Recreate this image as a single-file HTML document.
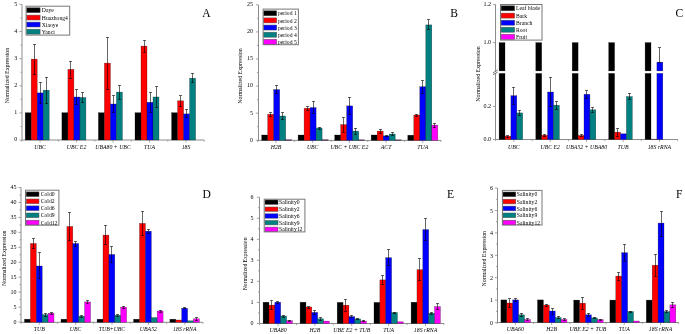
<!DOCTYPE html>
<html><head><meta charset="utf-8"><style>
html,body{margin:0;padding:0;background:#fff;}
body{width:685px;height:334px;overflow:hidden;}
svg{display:block;font-family:"Liberation Serif",serif;}
</style></head><body>
<svg width="685" height="334" viewBox="0 0 685 334" fill="#000">
<rect width="685" height="334" fill="#fff"/>
<line x1="22" y1="4.3" x2="22" y2="140" stroke="#8c8c8c" stroke-width="1.0"/>
<line x1="21.8" y1="140" x2="204.3" y2="140" stroke="#8c8c8c" stroke-width="1.0"/>
<line x1="19.4" y1="140.1" x2="22" y2="140.1" stroke="#8c8c8c" stroke-width="0.8"/>
<line x1="19.4" y1="112.96" x2="22" y2="112.96" stroke="#8c8c8c" stroke-width="0.8"/>
<line x1="19.4" y1="85.82" x2="22" y2="85.82" stroke="#8c8c8c" stroke-width="0.8"/>
<line x1="19.4" y1="58.68" x2="22" y2="58.68" stroke="#8c8c8c" stroke-width="0.8"/>
<line x1="19.4" y1="31.54" x2="22" y2="31.54" stroke="#8c8c8c" stroke-width="0.8"/>
<line x1="19.4" y1="4.4" x2="22" y2="4.4" stroke="#8c8c8c" stroke-width="0.8"/>
<line x1="20.5" y1="126.53" x2="22" y2="126.53" stroke="#8c8c8c" stroke-width="0.8"/>
<line x1="20.5" y1="99.39" x2="22" y2="99.39" stroke="#8c8c8c" stroke-width="0.8"/>
<line x1="20.5" y1="72.25" x2="22" y2="72.25" stroke="#8c8c8c" stroke-width="0.8"/>
<line x1="20.5" y1="45.11" x2="22" y2="45.11" stroke="#8c8c8c" stroke-width="0.8"/>
<line x1="20.5" y1="17.97" x2="22" y2="17.97" stroke="#8c8c8c" stroke-width="0.8"/>
<line x1="21.8" y1="140" x2="21.8" y2="141.6" stroke="#8c8c8c" stroke-width="0.8"/>
<line x1="58.3" y1="140" x2="58.3" y2="141.6" stroke="#8c8c8c" stroke-width="0.8"/>
<line x1="94.8" y1="140" x2="94.8" y2="141.6" stroke="#8c8c8c" stroke-width="0.8"/>
<line x1="131.3" y1="140" x2="131.3" y2="141.6" stroke="#8c8c8c" stroke-width="0.8"/>
<line x1="167.8" y1="140" x2="167.8" y2="141.6" stroke="#8c8c8c" stroke-width="0.8"/>
<line x1="204.3" y1="140" x2="204.3" y2="141.6" stroke="#8c8c8c" stroke-width="0.8"/>
<line x1="40.05" y1="140" x2="40.05" y2="142.4" stroke="#8c8c8c" stroke-width="0.8"/>
<line x1="76.55" y1="140" x2="76.55" y2="142.4" stroke="#8c8c8c" stroke-width="0.8"/>
<line x1="113.05" y1="140" x2="113.05" y2="142.4" stroke="#8c8c8c" stroke-width="0.8"/>
<line x1="149.55" y1="140" x2="149.55" y2="142.4" stroke="#8c8c8c" stroke-width="0.8"/>
<line x1="186.05" y1="140" x2="186.05" y2="142.4" stroke="#8c8c8c" stroke-width="0.8"/>
<rect x="25.2" y="112.7" width="6" height="27.3" fill="#000000" stroke="#000" stroke-opacity="0.55" stroke-width="0.45"/>
<rect x="31.2" y="59.1" width="6" height="80.9" fill="#ff0000" stroke="#000" stroke-opacity="0.55" stroke-width="0.45"/>
<rect x="37.2" y="92.9" width="6" height="47.1" fill="#0000ff" stroke="#000" stroke-opacity="0.55" stroke-width="0.45"/>
<rect x="43.2" y="90.2" width="6" height="49.8" fill="#008080" stroke="#000" stroke-opacity="0.55" stroke-width="0.45"/>
<path d="M34.5 44.5V74.5M33 44.5H36M33 74.5H36" stroke="#000" stroke-width="0.6" fill="none"/>
<path d="M40.5 82.5V103.5M39 82.5H42M39 103.5H42" stroke="#000" stroke-width="0.6" fill="none"/>
<path d="M46.5 77.5V103.5M45 77.5H48M45 103.5H48" stroke="#000" stroke-width="0.6" fill="none"/>
<rect x="61.9" y="112.7" width="6" height="27.3" fill="#000000" stroke="#000" stroke-opacity="0.55" stroke-width="0.45"/>
<rect x="67.9" y="69.4" width="6" height="70.6" fill="#ff0000" stroke="#000" stroke-opacity="0.55" stroke-width="0.45"/>
<rect x="73.9" y="97" width="6" height="43" fill="#0000ff" stroke="#000" stroke-opacity="0.55" stroke-width="0.45"/>
<rect x="79.9" y="97.5" width="6" height="42.5" fill="#008080" stroke="#000" stroke-opacity="0.55" stroke-width="0.45"/>
<path d="M70.5 61.5V78.5M69 61.5H72M69 78.5H72" stroke="#000" stroke-width="0.6" fill="none"/>
<path d="M76.5 89.5V104.5M75 89.5H78M75 104.5H78" stroke="#000" stroke-width="0.6" fill="none"/>
<path d="M82.5 92.5V102.5M81 92.5H84M81 102.5H84" stroke="#000" stroke-width="0.6" fill="none"/>
<rect x="98.4" y="112.7" width="6" height="27.3" fill="#000000" stroke="#000" stroke-opacity="0.55" stroke-width="0.45"/>
<rect x="104.4" y="63.1" width="6" height="76.9" fill="#ff0000" stroke="#000" stroke-opacity="0.55" stroke-width="0.45"/>
<rect x="110.4" y="104" width="6" height="36" fill="#0000ff" stroke="#000" stroke-opacity="0.55" stroke-width="0.45"/>
<rect x="116.4" y="92.1" width="6" height="47.9" fill="#008080" stroke="#000" stroke-opacity="0.55" stroke-width="0.45"/>
<path d="M107.5 37.5V89.5M106 37.5H109M106 89.5H109" stroke="#000" stroke-width="0.6" fill="none"/>
<path d="M113.5 95.5V112.5M112 95.5H115M112 112.5H115" stroke="#000" stroke-width="0.6" fill="none"/>
<path d="M119.5 85.5V99.5M118 85.5H121M118 99.5H121" stroke="#000" stroke-width="0.6" fill="none"/>
<rect x="135" y="112.7" width="6" height="27.3" fill="#000000" stroke="#000" stroke-opacity="0.55" stroke-width="0.45"/>
<rect x="141" y="46.1" width="6" height="93.9" fill="#ff0000" stroke="#000" stroke-opacity="0.55" stroke-width="0.45"/>
<rect x="147" y="102.3" width="6" height="37.7" fill="#0000ff" stroke="#000" stroke-opacity="0.55" stroke-width="0.45"/>
<rect x="153" y="97" width="6" height="43" fill="#008080" stroke="#000" stroke-opacity="0.55" stroke-width="0.45"/>
<path d="M144.5 40.5V52.5M143 40.5H146M143 52.5H146" stroke="#000" stroke-width="0.6" fill="none"/>
<path d="M150.5 92.5V112.5M149 92.5H152M149 112.5H152" stroke="#000" stroke-width="0.6" fill="none"/>
<path d="M156.5 86.5V107.5M155 86.5H158M155 107.5H158" stroke="#000" stroke-width="0.6" fill="none"/>
<rect x="171.6" y="112.7" width="6" height="27.3" fill="#000000" stroke="#000" stroke-opacity="0.55" stroke-width="0.45"/>
<rect x="177.6" y="100.8" width="6" height="39.2" fill="#ff0000" stroke="#000" stroke-opacity="0.55" stroke-width="0.45"/>
<rect x="183.6" y="113.9" width="6" height="26.1" fill="#0000ff" stroke="#000" stroke-opacity="0.55" stroke-width="0.45"/>
<rect x="189.6" y="78.2" width="6" height="61.8" fill="#008080" stroke="#000" stroke-opacity="0.55" stroke-width="0.45"/>
<path d="M180.5 95.5V106.5M179 95.5H182M179 106.5H182" stroke="#000" stroke-width="0.6" fill="none"/>
<path d="M186.5 109.5V117.5M185 109.5H188M185 117.5H188" stroke="#000" stroke-width="0.6" fill="none"/>
<path d="M192.5 73.5V82.5M191 73.5H194M191 82.5H194" stroke="#000" stroke-width="0.6" fill="none"/>
<rect x="26.1" y="6.2" width="43.6" height="28.9" fill="#fff" stroke="#777" stroke-width="1"/>
<rect x="26.8" y="7.8" width="13.3" height="4.9" fill="#000000" stroke="#555" stroke-width="0.5"/>
<rect x="26.8" y="15.1" width="13.3" height="4.9" fill="#ff0000" stroke="#555" stroke-width="0.5"/>
<rect x="26.8" y="22.1" width="13.3" height="4.9" fill="#0000ff" stroke="#555" stroke-width="0.5"/>
<rect x="26.8" y="29.2" width="13.3" height="4.9" fill="#008080" stroke="#555" stroke-width="0.5"/>
<line x1="258.5" y1="4.8" x2="258.5" y2="140.4" stroke="#8c8c8c" stroke-width="1.0"/>
<line x1="257.7" y1="140.4" x2="441.05" y2="140.4" stroke="#8c8c8c" stroke-width="1.0"/>
<line x1="255.9" y1="140.3" x2="258.5" y2="140.3" stroke="#8c8c8c" stroke-width="0.8"/>
<line x1="255.9" y1="113.2" x2="258.5" y2="113.2" stroke="#8c8c8c" stroke-width="0.8"/>
<line x1="255.9" y1="86.1" x2="258.5" y2="86.1" stroke="#8c8c8c" stroke-width="0.8"/>
<line x1="255.9" y1="59" x2="258.5" y2="59" stroke="#8c8c8c" stroke-width="0.8"/>
<line x1="255.9" y1="31.9" x2="258.5" y2="31.9" stroke="#8c8c8c" stroke-width="0.8"/>
<line x1="255.9" y1="4.8" x2="258.5" y2="4.8" stroke="#8c8c8c" stroke-width="0.8"/>
<line x1="257" y1="126.75" x2="258.5" y2="126.75" stroke="#8c8c8c" stroke-width="0.8"/>
<line x1="257" y1="99.65" x2="258.5" y2="99.65" stroke="#8c8c8c" stroke-width="0.8"/>
<line x1="257" y1="72.55" x2="258.5" y2="72.55" stroke="#8c8c8c" stroke-width="0.8"/>
<line x1="257" y1="45.45" x2="258.5" y2="45.45" stroke="#8c8c8c" stroke-width="0.8"/>
<line x1="257" y1="18.35" x2="258.5" y2="18.35" stroke="#8c8c8c" stroke-width="0.8"/>
<line x1="257.7" y1="140.4" x2="257.7" y2="142" stroke="#8c8c8c" stroke-width="0.8"/>
<line x1="294.37" y1="140.4" x2="294.37" y2="142" stroke="#8c8c8c" stroke-width="0.8"/>
<line x1="331.04" y1="140.4" x2="331.04" y2="142" stroke="#8c8c8c" stroke-width="0.8"/>
<line x1="367.71" y1="140.4" x2="367.71" y2="142" stroke="#8c8c8c" stroke-width="0.8"/>
<line x1="404.38" y1="140.4" x2="404.38" y2="142" stroke="#8c8c8c" stroke-width="0.8"/>
<line x1="441.05" y1="140.4" x2="441.05" y2="142" stroke="#8c8c8c" stroke-width="0.8"/>
<line x1="276.03" y1="140.4" x2="276.03" y2="142.8" stroke="#8c8c8c" stroke-width="0.8"/>
<line x1="312.7" y1="140.4" x2="312.7" y2="142.8" stroke="#8c8c8c" stroke-width="0.8"/>
<line x1="349.38" y1="140.4" x2="349.38" y2="142.8" stroke="#8c8c8c" stroke-width="0.8"/>
<line x1="386.04" y1="140.4" x2="386.04" y2="142.8" stroke="#8c8c8c" stroke-width="0.8"/>
<line x1="422.72" y1="140.4" x2="422.72" y2="142.8" stroke="#8c8c8c" stroke-width="0.8"/>
<rect x="261.7" y="135" width="6" height="5.4" fill="#000000" stroke="#000" stroke-opacity="0.55" stroke-width="0.45"/>
<rect x="267.7" y="114.3" width="6" height="26.1" fill="#ff0000" stroke="#000" stroke-opacity="0.55" stroke-width="0.45"/>
<rect x="273.7" y="89.6" width="6" height="50.8" fill="#0000ff" stroke="#000" stroke-opacity="0.55" stroke-width="0.45"/>
<rect x="279.7" y="116" width="6" height="24.4" fill="#008080" stroke="#000" stroke-opacity="0.55" stroke-width="0.45"/>
<rect x="285.7" y="139.7" width="6" height="0.7" fill="#7a207a" stroke="#000" stroke-opacity="0.55" stroke-width="0.45"/>
<path d="M270.5 112.5V116.5M269 112.5H272M269 116.5H272" stroke="#000" stroke-width="0.6" fill="none"/>
<path d="M276.5 85.5V93.5M275 85.5H278M275 93.5H278" stroke="#000" stroke-width="0.6" fill="none"/>
<path d="M282.5 112.5V119.5M281 112.5H284M281 119.5H284" stroke="#000" stroke-width="0.6" fill="none"/>
<rect x="298.1" y="135" width="6" height="5.4" fill="#000000" stroke="#000" stroke-opacity="0.55" stroke-width="0.45"/>
<rect x="304.1" y="108.3" width="6" height="32.1" fill="#ff0000" stroke="#000" stroke-opacity="0.55" stroke-width="0.45"/>
<rect x="310.1" y="107.6" width="6" height="32.8" fill="#0000ff" stroke="#000" stroke-opacity="0.55" stroke-width="0.45"/>
<rect x="316.1" y="128" width="6" height="12.4" fill="#008080" stroke="#000" stroke-opacity="0.55" stroke-width="0.45"/>
<rect x="322.1" y="139.7" width="6" height="0.7" fill="#7a207a" stroke="#000" stroke-opacity="0.55" stroke-width="0.45"/>
<path d="M307.5 106.5V110.5M306 106.5H309M306 110.5H309" stroke="#000" stroke-width="0.6" fill="none"/>
<path d="M313.5 101.5V113.5M312 101.5H315M312 113.5H315" stroke="#000" stroke-width="0.6" fill="none"/>
<path d="M319.5 127.5V129.5M318 127.5H321M318 129.5H321" stroke="#000" stroke-width="0.6" fill="none"/>
<rect x="334.7" y="135" width="6" height="5.4" fill="#000000" stroke="#000" stroke-opacity="0.55" stroke-width="0.45"/>
<rect x="340.7" y="124.6" width="6" height="15.8" fill="#ff0000" stroke="#000" stroke-opacity="0.55" stroke-width="0.45"/>
<rect x="346.7" y="105.9" width="6" height="34.5" fill="#0000ff" stroke="#000" stroke-opacity="0.55" stroke-width="0.45"/>
<rect x="352.7" y="131.1" width="6" height="9.3" fill="#008080" stroke="#000" stroke-opacity="0.55" stroke-width="0.45"/>
<rect x="358.7" y="139.8" width="6" height="0.6" fill="#7a207a" stroke="#000" stroke-opacity="0.55" stroke-width="0.45"/>
<path d="M343.5 117.5V132.5M342 117.5H345M342 132.5H345" stroke="#000" stroke-width="0.6" fill="none"/>
<path d="M349.5 97.5V114.5M348 97.5H351M348 114.5H351" stroke="#000" stroke-width="0.6" fill="none"/>
<path d="M355.5 128.5V134.5M354 128.5H357M354 134.5H357" stroke="#000" stroke-width="0.6" fill="none"/>
<rect x="371.2" y="135" width="6" height="5.4" fill="#000000" stroke="#000" stroke-opacity="0.55" stroke-width="0.45"/>
<rect x="377.2" y="131.1" width="6" height="9.3" fill="#ff0000" stroke="#000" stroke-opacity="0.55" stroke-width="0.45"/>
<rect x="383.2" y="135.9" width="6" height="4.5" fill="#0000ff" stroke="#000" stroke-opacity="0.55" stroke-width="0.45"/>
<rect x="389.2" y="134" width="6" height="6.4" fill="#008080" stroke="#000" stroke-opacity="0.55" stroke-width="0.45"/>
<rect x="395.2" y="139.8" width="6" height="0.6" fill="#7a207a" stroke="#000" stroke-opacity="0.55" stroke-width="0.45"/>
<path d="M380.5 129.5V133.5M379 129.5H382M379 133.5H382" stroke="#000" stroke-width="0.6" fill="none"/>
<path d="M386.5 135.5V136.5M385 135.5H388M385 136.5H388" stroke="#000" stroke-width="0.6" fill="none"/>
<path d="M392.5 132.5V135.5M391 132.5H394M391 135.5H394" stroke="#000" stroke-width="0.6" fill="none"/>
<rect x="407.8" y="135.2" width="6" height="5.2" fill="#000000" stroke="#000" stroke-opacity="0.55" stroke-width="0.45"/>
<rect x="413.8" y="115" width="6" height="25.4" fill="#ff0000" stroke="#000" stroke-opacity="0.55" stroke-width="0.45"/>
<rect x="419.8" y="86.7" width="6" height="53.7" fill="#0000ff" stroke="#000" stroke-opacity="0.55" stroke-width="0.45"/>
<rect x="425.8" y="24.9" width="6" height="115.5" fill="#008080" stroke="#000" stroke-opacity="0.55" stroke-width="0.45"/>
<rect x="431.8" y="125.1" width="6" height="15.3" fill="#ff00ff" stroke="#000" stroke-opacity="0.55" stroke-width="0.45"/>
<path d="M416.5 114.5V116.5M415 114.5H418M415 116.5H418" stroke="#000" stroke-width="0.6" fill="none"/>
<path d="M422.5 80.5V93.5M421 80.5H424M421 93.5H424" stroke="#000" stroke-width="0.6" fill="none"/>
<path d="M428.5 19.5V29.5M427 19.5H430M427 29.5H430" stroke="#000" stroke-width="0.6" fill="none"/>
<path d="M434.5 123.5V127.5M433 123.5H436M433 127.5H436" stroke="#000" stroke-width="0.6" fill="none"/>
<rect x="263.1" y="9.1" width="35.3" height="35.6" fill="#fff" stroke="#777" stroke-width="1"/>
<rect x="263.8" y="10.8" width="12.9" height="5" fill="#000000" stroke="#555" stroke-width="0.5"/>
<rect x="263.8" y="17.9" width="12.9" height="5" fill="#ff0000" stroke="#555" stroke-width="0.5"/>
<rect x="263.8" y="25.05" width="12.9" height="5" fill="#0000ff" stroke="#555" stroke-width="0.5"/>
<rect x="263.8" y="32.2" width="12.9" height="5" fill="#008080" stroke="#555" stroke-width="0.5"/>
<rect x="263.8" y="39.3" width="12.9" height="5" fill="#ff00ff" stroke="#555" stroke-width="0.5"/>
<line x1="21" y1="187.5" x2="21" y2="322.3" stroke="#8c8c8c" stroke-width="1.0"/>
<line x1="21" y1="322.3" x2="203" y2="322.3" stroke="#8c8c8c" stroke-width="1.0"/>
<line x1="18.4" y1="322" x2="21" y2="322" stroke="#8c8c8c" stroke-width="0.8"/>
<line x1="18.4" y1="307.06" x2="21" y2="307.06" stroke="#8c8c8c" stroke-width="0.8"/>
<line x1="18.4" y1="292.12" x2="21" y2="292.12" stroke="#8c8c8c" stroke-width="0.8"/>
<line x1="18.4" y1="277.18" x2="21" y2="277.18" stroke="#8c8c8c" stroke-width="0.8"/>
<line x1="18.4" y1="262.24" x2="21" y2="262.24" stroke="#8c8c8c" stroke-width="0.8"/>
<line x1="18.4" y1="247.3" x2="21" y2="247.3" stroke="#8c8c8c" stroke-width="0.8"/>
<line x1="18.4" y1="232.36" x2="21" y2="232.36" stroke="#8c8c8c" stroke-width="0.8"/>
<line x1="18.4" y1="217.42" x2="21" y2="217.42" stroke="#8c8c8c" stroke-width="0.8"/>
<line x1="18.4" y1="202.48" x2="21" y2="202.48" stroke="#8c8c8c" stroke-width="0.8"/>
<line x1="18.4" y1="187.54" x2="21" y2="187.54" stroke="#8c8c8c" stroke-width="0.8"/>
<line x1="19.5" y1="314.53" x2="21" y2="314.53" stroke="#8c8c8c" stroke-width="0.8"/>
<line x1="19.5" y1="299.59" x2="21" y2="299.59" stroke="#8c8c8c" stroke-width="0.8"/>
<line x1="19.5" y1="284.65" x2="21" y2="284.65" stroke="#8c8c8c" stroke-width="0.8"/>
<line x1="19.5" y1="269.71" x2="21" y2="269.71" stroke="#8c8c8c" stroke-width="0.8"/>
<line x1="19.5" y1="254.77" x2="21" y2="254.77" stroke="#8c8c8c" stroke-width="0.8"/>
<line x1="19.5" y1="239.83" x2="21" y2="239.83" stroke="#8c8c8c" stroke-width="0.8"/>
<line x1="19.5" y1="224.89" x2="21" y2="224.89" stroke="#8c8c8c" stroke-width="0.8"/>
<line x1="19.5" y1="209.95" x2="21" y2="209.95" stroke="#8c8c8c" stroke-width="0.8"/>
<line x1="19.5" y1="195.01" x2="21" y2="195.01" stroke="#8c8c8c" stroke-width="0.8"/>
<line x1="21" y1="322.3" x2="21" y2="323.9" stroke="#8c8c8c" stroke-width="0.8"/>
<line x1="57.4" y1="322.3" x2="57.4" y2="323.9" stroke="#8c8c8c" stroke-width="0.8"/>
<line x1="93.8" y1="322.3" x2="93.8" y2="323.9" stroke="#8c8c8c" stroke-width="0.8"/>
<line x1="130.2" y1="322.3" x2="130.2" y2="323.9" stroke="#8c8c8c" stroke-width="0.8"/>
<line x1="166.6" y1="322.3" x2="166.6" y2="323.9" stroke="#8c8c8c" stroke-width="0.8"/>
<line x1="203" y1="322.3" x2="203" y2="323.9" stroke="#8c8c8c" stroke-width="0.8"/>
<line x1="39.2" y1="322.3" x2="39.2" y2="324.7" stroke="#8c8c8c" stroke-width="0.8"/>
<line x1="75.6" y1="322.3" x2="75.6" y2="324.7" stroke="#8c8c8c" stroke-width="0.8"/>
<line x1="112" y1="322.3" x2="112" y2="324.7" stroke="#8c8c8c" stroke-width="0.8"/>
<line x1="148.4" y1="322.3" x2="148.4" y2="324.7" stroke="#8c8c8c" stroke-width="0.8"/>
<line x1="184.8" y1="322.3" x2="184.8" y2="324.7" stroke="#8c8c8c" stroke-width="0.8"/>
<rect x="24.5" y="319.2" width="5.9" height="3.1" fill="#000000" stroke="#000" stroke-opacity="0.55" stroke-width="0.45"/>
<rect x="30.4" y="243.5" width="5.9" height="78.8" fill="#ff0000" stroke="#000" stroke-opacity="0.55" stroke-width="0.45"/>
<rect x="36.3" y="266" width="5.9" height="56.3" fill="#0000ff" stroke="#000" stroke-opacity="0.55" stroke-width="0.45"/>
<rect x="42.2" y="314.7" width="5.9" height="7.6" fill="#008080" stroke="#000" stroke-opacity="0.55" stroke-width="0.45"/>
<rect x="48.1" y="313.2" width="5.9" height="9.1" fill="#ff00ff" stroke="#000" stroke-opacity="0.55" stroke-width="0.45"/>
<path d="M33.5 238.5V248.5M32 238.5H35M32 248.5H35" stroke="#000" stroke-width="0.6" fill="none"/>
<path d="M39.5 252.5V278.5M38 252.5H41M38 278.5H41" stroke="#000" stroke-width="0.6" fill="none"/>
<path d="M45.5 313.5V316.5M44 313.5H47M44 316.5H47" stroke="#000" stroke-width="0.6" fill="none"/>
<path d="M51.5 312.5V314.5M50 312.5H53M50 314.5H53" stroke="#000" stroke-width="0.6" fill="none"/>
<rect x="61" y="319.2" width="5.9" height="3.1" fill="#000000" stroke="#000" stroke-opacity="0.55" stroke-width="0.45"/>
<rect x="66.9" y="226.5" width="5.9" height="95.8" fill="#ff0000" stroke="#000" stroke-opacity="0.55" stroke-width="0.45"/>
<rect x="72.8" y="243.5" width="5.9" height="78.8" fill="#0000ff" stroke="#000" stroke-opacity="0.55" stroke-width="0.45"/>
<rect x="78.7" y="316.2" width="5.9" height="6.1" fill="#008080" stroke="#000" stroke-opacity="0.55" stroke-width="0.45"/>
<rect x="84.6" y="301.9" width="5.9" height="20.4" fill="#ff00ff" stroke="#000" stroke-opacity="0.55" stroke-width="0.45"/>
<path d="M69.5 212.5V240.5M68 212.5H71M68 240.5H71" stroke="#000" stroke-width="0.6" fill="none"/>
<path d="M75.5 241.5V246.5M74 241.5H77M74 246.5H77" stroke="#000" stroke-width="0.6" fill="none"/>
<path d="M81.5 315.5V317.5M80 315.5H83M80 317.5H83" stroke="#000" stroke-width="0.6" fill="none"/>
<path d="M87.5 300.5V303.5M86 300.5H89M86 303.5H89" stroke="#000" stroke-width="0.6" fill="none"/>
<rect x="97.1" y="319.2" width="5.9" height="3.1" fill="#000000" stroke="#000" stroke-opacity="0.55" stroke-width="0.45"/>
<rect x="103" y="235.1" width="5.9" height="87.2" fill="#ff0000" stroke="#000" stroke-opacity="0.55" stroke-width="0.45"/>
<rect x="108.9" y="254.5" width="5.9" height="67.8" fill="#0000ff" stroke="#000" stroke-opacity="0.55" stroke-width="0.45"/>
<rect x="114.8" y="315.3" width="5.9" height="7" fill="#008080" stroke="#000" stroke-opacity="0.55" stroke-width="0.45"/>
<rect x="120.7" y="307.1" width="5.9" height="15.2" fill="#ff00ff" stroke="#000" stroke-opacity="0.55" stroke-width="0.45"/>
<path d="M105.5 225.5V244.5M104 225.5H107M104 244.5H107" stroke="#000" stroke-width="0.6" fill="none"/>
<path d="M111.5 246.5V262.5M110 246.5H113M110 262.5H113" stroke="#000" stroke-width="0.6" fill="none"/>
<path d="M117.5 314.5V316.5M116 314.5H119M116 316.5H119" stroke="#000" stroke-width="0.6" fill="none"/>
<path d="M123.5 306.5V308.5M122 306.5H125M122 308.5H125" stroke="#000" stroke-width="0.6" fill="none"/>
<rect x="133.6" y="319.2" width="5.9" height="3.1" fill="#000000" stroke="#000" stroke-opacity="0.55" stroke-width="0.45"/>
<rect x="139.5" y="223.4" width="5.9" height="98.9" fill="#ff0000" stroke="#000" stroke-opacity="0.55" stroke-width="0.45"/>
<rect x="145.4" y="231.2" width="5.9" height="91.1" fill="#0000ff" stroke="#000" stroke-opacity="0.55" stroke-width="0.45"/>
<rect x="151.3" y="317.6" width="5.9" height="4.7" fill="#008080" stroke="#000" stroke-opacity="0.55" stroke-width="0.45"/>
<rect x="157.2" y="311" width="5.9" height="11.3" fill="#ff00ff" stroke="#000" stroke-opacity="0.55" stroke-width="0.45"/>
<path d="M142.5 211.5V235.5M141 211.5H144M141 235.5H144" stroke="#000" stroke-width="0.6" fill="none"/>
<path d="M148.5 229.5V233.5M147 229.5H150M147 233.5H150" stroke="#000" stroke-width="0.6" fill="none"/>
<path d="M160.5 310.5V312.5M159 310.5H162M159 312.5H162" stroke="#000" stroke-width="0.6" fill="none"/>
<rect x="169.9" y="319.2" width="5.9" height="3.1" fill="#000000" stroke="#000" stroke-opacity="0.55" stroke-width="0.45"/>
<rect x="175.8" y="320" width="5.9" height="2.3" fill="#ff0000" stroke="#000" stroke-opacity="0.55" stroke-width="0.45"/>
<rect x="181.7" y="308.3" width="5.9" height="14" fill="#0000ff" stroke="#000" stroke-opacity="0.55" stroke-width="0.45"/>
<rect x="187.6" y="320.8" width="5.9" height="1.5" fill="#008080" stroke="#000" stroke-opacity="0.55" stroke-width="0.45"/>
<rect x="193.5" y="318.8" width="5.9" height="3.5" fill="#ff00ff" stroke="#000" stroke-opacity="0.55" stroke-width="0.45"/>
<path d="M184.5 307.5V308.5M183 307.5H186M183 308.5H186" stroke="#000" stroke-width="0.6" fill="none"/>
<path d="M196.5 317.5V320.5M195 317.5H198M195 320.5H198" stroke="#000" stroke-width="0.6" fill="none"/>
<rect x="25.5" y="190.2" width="33.4" height="35" fill="#fff" stroke="#777" stroke-width="1"/>
<rect x="26.2" y="191.9" width="12.8" height="4.7" fill="#000000" stroke="#555" stroke-width="0.5"/>
<rect x="26.2" y="199" width="12.8" height="4.7" fill="#ff0000" stroke="#555" stroke-width="0.5"/>
<rect x="26.2" y="205.9" width="12.8" height="4.7" fill="#0000ff" stroke="#555" stroke-width="0.5"/>
<rect x="26.2" y="213" width="12.8" height="4.7" fill="#008080" stroke="#555" stroke-width="0.5"/>
<rect x="26.2" y="220.2" width="12.8" height="4.7" fill="#ff00ff" stroke="#555" stroke-width="0.5"/>
<line x1="259.5" y1="197.2" x2="259.5" y2="323.5" stroke="#8c8c8c" stroke-width="1.0"/>
<line x1="259.5" y1="323.5" x2="443.95" y2="323.5" stroke="#8c8c8c" stroke-width="1.0"/>
<line x1="256.9" y1="323.4" x2="259.5" y2="323.4" stroke="#8c8c8c" stroke-width="0.8"/>
<line x1="256.9" y1="302.37" x2="259.5" y2="302.37" stroke="#8c8c8c" stroke-width="0.8"/>
<line x1="256.9" y1="281.34" x2="259.5" y2="281.34" stroke="#8c8c8c" stroke-width="0.8"/>
<line x1="256.9" y1="260.31" x2="259.5" y2="260.31" stroke="#8c8c8c" stroke-width="0.8"/>
<line x1="256.9" y1="239.28" x2="259.5" y2="239.28" stroke="#8c8c8c" stroke-width="0.8"/>
<line x1="256.9" y1="218.25" x2="259.5" y2="218.25" stroke="#8c8c8c" stroke-width="0.8"/>
<line x1="256.9" y1="197.22" x2="259.5" y2="197.22" stroke="#8c8c8c" stroke-width="0.8"/>
<line x1="258" y1="312.88" x2="259.5" y2="312.88" stroke="#8c8c8c" stroke-width="0.8"/>
<line x1="258" y1="291.85" x2="259.5" y2="291.85" stroke="#8c8c8c" stroke-width="0.8"/>
<line x1="258" y1="270.82" x2="259.5" y2="270.82" stroke="#8c8c8c" stroke-width="0.8"/>
<line x1="258" y1="249.79" x2="259.5" y2="249.79" stroke="#8c8c8c" stroke-width="0.8"/>
<line x1="258" y1="228.76" x2="259.5" y2="228.76" stroke="#8c8c8c" stroke-width="0.8"/>
<line x1="258" y1="207.73" x2="259.5" y2="207.73" stroke="#8c8c8c" stroke-width="0.8"/>
<line x1="259.6" y1="323.5" x2="259.6" y2="325.1" stroke="#8c8c8c" stroke-width="0.8"/>
<line x1="296.47" y1="323.5" x2="296.47" y2="325.1" stroke="#8c8c8c" stroke-width="0.8"/>
<line x1="333.34" y1="323.5" x2="333.34" y2="325.1" stroke="#8c8c8c" stroke-width="0.8"/>
<line x1="370.21" y1="323.5" x2="370.21" y2="325.1" stroke="#8c8c8c" stroke-width="0.8"/>
<line x1="407.08" y1="323.5" x2="407.08" y2="325.1" stroke="#8c8c8c" stroke-width="0.8"/>
<line x1="443.95" y1="323.5" x2="443.95" y2="325.1" stroke="#8c8c8c" stroke-width="0.8"/>
<line x1="278.04" y1="323.5" x2="278.04" y2="325.9" stroke="#8c8c8c" stroke-width="0.8"/>
<line x1="314.91" y1="323.5" x2="314.91" y2="325.9" stroke="#8c8c8c" stroke-width="0.8"/>
<line x1="351.78" y1="323.5" x2="351.78" y2="325.9" stroke="#8c8c8c" stroke-width="0.8"/>
<line x1="388.64" y1="323.5" x2="388.64" y2="325.9" stroke="#8c8c8c" stroke-width="0.8"/>
<line x1="425.51" y1="323.5" x2="425.51" y2="325.9" stroke="#8c8c8c" stroke-width="0.8"/>
<rect x="263.1" y="302.2" width="5.86" height="21.3" fill="#000000" stroke="#000" stroke-opacity="0.55" stroke-width="0.45"/>
<rect x="268.96" y="305.1" width="5.86" height="18.4" fill="#ff0000" stroke="#000" stroke-opacity="0.55" stroke-width="0.45"/>
<rect x="274.82" y="302.2" width="5.86" height="21.3" fill="#0000ff" stroke="#000" stroke-opacity="0.55" stroke-width="0.45"/>
<rect x="280.68" y="316" width="5.86" height="7.5" fill="#008080" stroke="#000" stroke-opacity="0.55" stroke-width="0.45"/>
<rect x="286.54" y="320.7" width="5.86" height="2.8" fill="#ff00ff" stroke="#000" stroke-opacity="0.55" stroke-width="0.45"/>
<path d="M271.5 300.5V309.5M270 300.5H273M270 309.5H273" stroke="#000" stroke-width="0.6" fill="none"/>
<path d="M277.5 301.5V303.5M276 301.5H279M276 303.5H279" stroke="#000" stroke-width="0.6" fill="none"/>
<path d="M283.5 315.5V317.5M282 315.5H285M282 317.5H285" stroke="#000" stroke-width="0.6" fill="none"/>
<path d="M289.5 320.5V321.5M288 320.5H291M288 321.5H291" stroke="#000" stroke-width="0.6" fill="none"/>
<rect x="300.1" y="302.2" width="5.86" height="21.3" fill="#000000" stroke="#000" stroke-opacity="0.55" stroke-width="0.45"/>
<rect x="305.96" y="307" width="5.86" height="16.5" fill="#ff0000" stroke="#000" stroke-opacity="0.55" stroke-width="0.45"/>
<rect x="311.82" y="312.4" width="5.86" height="11.1" fill="#0000ff" stroke="#000" stroke-opacity="0.55" stroke-width="0.45"/>
<rect x="317.68" y="318.8" width="5.86" height="4.7" fill="#008080" stroke="#000" stroke-opacity="0.55" stroke-width="0.45"/>
<rect x="323.54" y="321.1" width="5.86" height="2.4" fill="#ff00ff" stroke="#000" stroke-opacity="0.55" stroke-width="0.45"/>
<path d="M308.5 306.5V308.5M307 306.5H310M307 308.5H310" stroke="#000" stroke-width="0.6" fill="none"/>
<path d="M314.5 310.5V314.5M313 310.5H316M313 314.5H316" stroke="#000" stroke-width="0.6" fill="none"/>
<path d="M320.5 317.5V320.5M319 317.5H322M319 320.5H322" stroke="#000" stroke-width="0.6" fill="none"/>
<rect x="337.2" y="302.4" width="5.86" height="21.1" fill="#000000" stroke="#000" stroke-opacity="0.55" stroke-width="0.45"/>
<rect x="343.06" y="305.2" width="5.86" height="18.3" fill="#ff0000" stroke="#000" stroke-opacity="0.55" stroke-width="0.45"/>
<rect x="348.92" y="316.6" width="5.86" height="6.9" fill="#0000ff" stroke="#000" stroke-opacity="0.55" stroke-width="0.45"/>
<rect x="354.78" y="318.9" width="5.86" height="4.6" fill="#008080" stroke="#000" stroke-opacity="0.55" stroke-width="0.45"/>
<rect x="360.64" y="321.1" width="5.86" height="2.4" fill="#ff00ff" stroke="#000" stroke-opacity="0.55" stroke-width="0.45"/>
<path d="M345.5 299.5V311.5M344 299.5H347M344 311.5H347" stroke="#000" stroke-width="0.6" fill="none"/>
<path d="M351.5 315.5V317.5M350 315.5H353M350 317.5H353" stroke="#000" stroke-width="0.6" fill="none"/>
<path d="M357.5 318.5V319.5M356 318.5H359M356 319.5H359" stroke="#000" stroke-width="0.6" fill="none"/>
<path d="M363.5 320.5V321.5M362 320.5H365M362 321.5H365" stroke="#000" stroke-width="0.6" fill="none"/>
<rect x="374" y="302.4" width="5.86" height="21.1" fill="#000000" stroke="#000" stroke-opacity="0.55" stroke-width="0.45"/>
<rect x="379.86" y="279.9" width="5.86" height="43.6" fill="#ff0000" stroke="#000" stroke-opacity="0.55" stroke-width="0.45"/>
<rect x="385.72" y="257.7" width="5.86" height="65.8" fill="#0000ff" stroke="#000" stroke-opacity="0.55" stroke-width="0.45"/>
<rect x="391.58" y="312.6" width="5.86" height="10.9" fill="#008080" stroke="#000" stroke-opacity="0.55" stroke-width="0.45"/>
<rect x="397.44" y="321.8" width="5.86" height="1.7" fill="#ff00ff" stroke="#000" stroke-opacity="0.55" stroke-width="0.45"/>
<path d="M382.5 275.5V284.5M381 275.5H384M381 284.5H384" stroke="#000" stroke-width="0.6" fill="none"/>
<path d="M388.5 249.5V265.5M387 249.5H390M387 265.5H390" stroke="#000" stroke-width="0.6" fill="none"/>
<path d="M394.5 312.5V313.5M393 312.5H396M393 313.5H396" stroke="#000" stroke-width="0.6" fill="none"/>
<rect x="411.1" y="302.2" width="5.86" height="21.3" fill="#000000" stroke="#000" stroke-opacity="0.55" stroke-width="0.45"/>
<rect x="416.96" y="269.7" width="5.86" height="53.8" fill="#ff0000" stroke="#000" stroke-opacity="0.55" stroke-width="0.45"/>
<rect x="422.82" y="229.6" width="5.86" height="93.9" fill="#0000ff" stroke="#000" stroke-opacity="0.55" stroke-width="0.45"/>
<rect x="428.68" y="313.2" width="5.86" height="10.3" fill="#008080" stroke="#000" stroke-opacity="0.55" stroke-width="0.45"/>
<rect x="434.54" y="306.6" width="5.86" height="16.9" fill="#ff00ff" stroke="#000" stroke-opacity="0.55" stroke-width="0.45"/>
<path d="M419.5 258.5V280.5M418 258.5H421M418 280.5H421" stroke="#000" stroke-width="0.6" fill="none"/>
<path d="M425.5 218.5V240.5M424 218.5H427M424 240.5H427" stroke="#000" stroke-width="0.6" fill="none"/>
<path d="M431.5 312.5V314.5M430 312.5H433M430 314.5H433" stroke="#000" stroke-width="0.6" fill="none"/>
<path d="M437.5 303.5V309.5M436 303.5H439M436 309.5H439" stroke="#000" stroke-width="0.6" fill="none"/>
<rect x="264.2" y="199.2" width="40.7" height="32.7" fill="#fff" stroke="#777" stroke-width="1"/>
<rect x="265" y="200" width="13" height="4.4" fill="#000000" stroke="#555" stroke-width="0.5"/>
<rect x="265" y="207" width="13" height="4.4" fill="#ff0000" stroke="#555" stroke-width="0.5"/>
<rect x="265" y="213.8" width="13" height="4.4" fill="#0000ff" stroke="#555" stroke-width="0.5"/>
<rect x="265" y="220.5" width="13" height="4.4" fill="#008080" stroke="#555" stroke-width="0.5"/>
<rect x="265" y="227.1" width="13" height="4.4" fill="#ff00ff" stroke="#555" stroke-width="0.5"/>
<line x1="497.5" y1="188.1" x2="497.5" y2="322.5" stroke="#8c8c8c" stroke-width="1.0"/>
<line x1="497.2" y1="322.5" x2="678.7" y2="322.5" stroke="#8c8c8c" stroke-width="1.0"/>
<line x1="494.9" y1="322.6" x2="497.5" y2="322.6" stroke="#8c8c8c" stroke-width="0.8"/>
<line x1="494.9" y1="300.18" x2="497.5" y2="300.18" stroke="#8c8c8c" stroke-width="0.8"/>
<line x1="494.9" y1="277.76" x2="497.5" y2="277.76" stroke="#8c8c8c" stroke-width="0.8"/>
<line x1="494.9" y1="255.34" x2="497.5" y2="255.34" stroke="#8c8c8c" stroke-width="0.8"/>
<line x1="494.9" y1="232.92" x2="497.5" y2="232.92" stroke="#8c8c8c" stroke-width="0.8"/>
<line x1="494.9" y1="210.5" x2="497.5" y2="210.5" stroke="#8c8c8c" stroke-width="0.8"/>
<line x1="494.9" y1="188.08" x2="497.5" y2="188.08" stroke="#8c8c8c" stroke-width="0.8"/>
<line x1="496" y1="311.39" x2="497.5" y2="311.39" stroke="#8c8c8c" stroke-width="0.8"/>
<line x1="496" y1="288.97" x2="497.5" y2="288.97" stroke="#8c8c8c" stroke-width="0.8"/>
<line x1="496" y1="266.55" x2="497.5" y2="266.55" stroke="#8c8c8c" stroke-width="0.8"/>
<line x1="496" y1="244.13" x2="497.5" y2="244.13" stroke="#8c8c8c" stroke-width="0.8"/>
<line x1="496" y1="221.71" x2="497.5" y2="221.71" stroke="#8c8c8c" stroke-width="0.8"/>
<line x1="496" y1="199.29" x2="497.5" y2="199.29" stroke="#8c8c8c" stroke-width="0.8"/>
<line x1="497.2" y1="322.5" x2="497.2" y2="324.1" stroke="#8c8c8c" stroke-width="0.8"/>
<line x1="533.5" y1="322.5" x2="533.5" y2="324.1" stroke="#8c8c8c" stroke-width="0.8"/>
<line x1="569.8" y1="322.5" x2="569.8" y2="324.1" stroke="#8c8c8c" stroke-width="0.8"/>
<line x1="606.1" y1="322.5" x2="606.1" y2="324.1" stroke="#8c8c8c" stroke-width="0.8"/>
<line x1="642.4" y1="322.5" x2="642.4" y2="324.1" stroke="#8c8c8c" stroke-width="0.8"/>
<line x1="678.7" y1="322.5" x2="678.7" y2="324.1" stroke="#8c8c8c" stroke-width="0.8"/>
<line x1="515.35" y1="322.5" x2="515.35" y2="324.9" stroke="#8c8c8c" stroke-width="0.8"/>
<line x1="551.65" y1="322.5" x2="551.65" y2="324.9" stroke="#8c8c8c" stroke-width="0.8"/>
<line x1="587.95" y1="322.5" x2="587.95" y2="324.9" stroke="#8c8c8c" stroke-width="0.8"/>
<line x1="624.25" y1="322.5" x2="624.25" y2="324.9" stroke="#8c8c8c" stroke-width="0.8"/>
<line x1="660.55" y1="322.5" x2="660.55" y2="324.9" stroke="#8c8c8c" stroke-width="0.8"/>
<rect x="500.9" y="299.9" width="5.9" height="22.6" fill="#000000" stroke="#000" stroke-opacity="0.55" stroke-width="0.45"/>
<rect x="506.8" y="303" width="5.9" height="19.5" fill="#ff0000" stroke="#000" stroke-opacity="0.55" stroke-width="0.45"/>
<rect x="512.7" y="299.9" width="5.9" height="22.6" fill="#0000ff" stroke="#000" stroke-opacity="0.55" stroke-width="0.45"/>
<rect x="518.6" y="314.8" width="5.9" height="7.7" fill="#008080" stroke="#000" stroke-opacity="0.55" stroke-width="0.45"/>
<rect x="524.5" y="319.5" width="5.9" height="3" fill="#ff00ff" stroke="#000" stroke-opacity="0.55" stroke-width="0.45"/>
<path d="M509.5 298.5V307.5M508 298.5H511M508 307.5H511" stroke="#000" stroke-width="0.6" fill="none"/>
<path d="M515.5 298.5V301.5M514 298.5H517M514 301.5H517" stroke="#000" stroke-width="0.6" fill="none"/>
<path d="M521.5 313.5V316.5M520 313.5H523M520 316.5H523" stroke="#000" stroke-width="0.6" fill="none"/>
<path d="M527.5 318.5V320.5M526 318.5H529M526 320.5H529" stroke="#000" stroke-width="0.6" fill="none"/>
<rect x="537.5" y="299.9" width="5.9" height="22.6" fill="#000000" stroke="#000" stroke-opacity="0.55" stroke-width="0.45"/>
<rect x="543.4" y="305.1" width="5.9" height="17.4" fill="#ff0000" stroke="#000" stroke-opacity="0.55" stroke-width="0.45"/>
<rect x="549.3" y="311" width="5.9" height="11.5" fill="#0000ff" stroke="#000" stroke-opacity="0.55" stroke-width="0.45"/>
<rect x="555.2" y="317.6" width="5.9" height="4.9" fill="#008080" stroke="#000" stroke-opacity="0.55" stroke-width="0.45"/>
<rect x="561.1" y="319.5" width="5.9" height="3" fill="#ff00ff" stroke="#000" stroke-opacity="0.55" stroke-width="0.45"/>
<path d="M546.5 304.5V306.5M545 304.5H548M545 306.5H548" stroke="#000" stroke-width="0.6" fill="none"/>
<path d="M552.5 308.5V314.5M551 308.5H554M551 314.5H554" stroke="#000" stroke-width="0.6" fill="none"/>
<path d="M558.5 316.5V318.5M557 316.5H560M557 318.5H560" stroke="#000" stroke-width="0.6" fill="none"/>
<path d="M564.5 318.5V320.5M563 318.5H566M563 320.5H566" stroke="#000" stroke-width="0.6" fill="none"/>
<rect x="573.7" y="300.1" width="5.9" height="22.4" fill="#000000" stroke="#000" stroke-opacity="0.55" stroke-width="0.45"/>
<rect x="579.6" y="303.2" width="5.9" height="19.3" fill="#ff0000" stroke="#000" stroke-opacity="0.55" stroke-width="0.45"/>
<rect x="585.5" y="314.8" width="5.9" height="7.7" fill="#0000ff" stroke="#000" stroke-opacity="0.55" stroke-width="0.45"/>
<rect x="591.4" y="317.9" width="5.9" height="4.6" fill="#008080" stroke="#000" stroke-opacity="0.55" stroke-width="0.45"/>
<rect x="597.3" y="319.7" width="5.9" height="2.8" fill="#ff00ff" stroke="#000" stroke-opacity="0.55" stroke-width="0.45"/>
<path d="M582.5 297.5V309.5M581 297.5H584M581 309.5H584" stroke="#000" stroke-width="0.6" fill="none"/>
<path d="M588.5 313.5V316.5M587 313.5H590M587 316.5H590" stroke="#000" stroke-width="0.6" fill="none"/>
<path d="M594.5 317.5V318.5M593 317.5H596M593 318.5H596" stroke="#000" stroke-width="0.6" fill="none"/>
<path d="M600.5 319.5V320.5M599 319.5H602M599 320.5H602" stroke="#000" stroke-width="0.6" fill="none"/>
<rect x="609.9" y="300.1" width="5.9" height="22.4" fill="#000000" stroke="#000" stroke-opacity="0.55" stroke-width="0.45"/>
<rect x="615.8" y="276.1" width="5.9" height="46.4" fill="#ff0000" stroke="#000" stroke-opacity="0.55" stroke-width="0.45"/>
<rect x="621.7" y="252.7" width="5.9" height="69.8" fill="#0000ff" stroke="#000" stroke-opacity="0.55" stroke-width="0.45"/>
<rect x="627.6" y="311.6" width="5.9" height="10.9" fill="#008080" stroke="#000" stroke-opacity="0.55" stroke-width="0.45"/>
<rect x="633.5" y="321" width="5.9" height="1.5" fill="#ff00ff" stroke="#000" stroke-opacity="0.55" stroke-width="0.45"/>
<path d="M618.5 272.5V280.5M617 272.5H620M617 280.5H620" stroke="#000" stroke-width="0.6" fill="none"/>
<path d="M624.5 244.5V261.5M623 244.5H626M623 261.5H626" stroke="#000" stroke-width="0.6" fill="none"/>
<path d="M630.5 311.5V312.5M629 311.5H632M629 312.5H632" stroke="#000" stroke-width="0.6" fill="none"/>
<rect x="646.3" y="300.1" width="5.9" height="22.4" fill="#000000" stroke="#000" stroke-opacity="0.55" stroke-width="0.45"/>
<rect x="652.2" y="265.2" width="5.9" height="57.3" fill="#ff0000" stroke="#000" stroke-opacity="0.55" stroke-width="0.45"/>
<rect x="658.1" y="223.1" width="5.9" height="99.4" fill="#0000ff" stroke="#000" stroke-opacity="0.55" stroke-width="0.45"/>
<rect x="664" y="311.6" width="5.9" height="10.9" fill="#008080" stroke="#000" stroke-opacity="0.55" stroke-width="0.45"/>
<rect x="669.9" y="304.8" width="5.9" height="17.7" fill="#ff00ff" stroke="#000" stroke-opacity="0.55" stroke-width="0.45"/>
<path d="M655.5 254.5V276.5M654 254.5H657M654 276.5H657" stroke="#000" stroke-width="0.6" fill="none"/>
<path d="M661.5 211.5V236.5M660 211.5H663M660 236.5H663" stroke="#000" stroke-width="0.6" fill="none"/>
<path d="M666.5 310.5V312.5M665 310.5H668M665 312.5H668" stroke="#000" stroke-width="0.6" fill="none"/>
<path d="M672.5 302.5V307.5M671 302.5H674M671 307.5H674" stroke="#000" stroke-width="0.6" fill="none"/>
<rect x="502.4" y="190.4" width="39.6" height="34.6" fill="#fff" stroke="#777" stroke-width="1"/>
<rect x="503" y="192" width="12.8" height="4.7" fill="#000000" stroke="#555" stroke-width="0.5"/>
<rect x="503" y="199.2" width="12.8" height="4.7" fill="#ff0000" stroke="#555" stroke-width="0.5"/>
<rect x="503" y="206.1" width="12.8" height="4.7" fill="#0000ff" stroke="#555" stroke-width="0.5"/>
<rect x="503" y="213" width="12.8" height="4.7" fill="#008080" stroke="#555" stroke-width="0.5"/>
<rect x="503" y="220.2" width="12.8" height="4.7" fill="#ff00ff" stroke="#555" stroke-width="0.5"/>
<line x1="495.5" y1="4.5" x2="495.5" y2="71.3" stroke="#8c8c8c" stroke-width="1.0"/>
<line x1="495.5" y1="73.3" x2="495.5" y2="139.5" stroke="#8c8c8c" stroke-width="1.0"/>
<path d="M492.9 72.8L497.7 70.1M492.9 74.7L497.7 72.2" stroke="#444" stroke-width="0.75" fill="none"/>
<line x1="495.5" y1="139.5" x2="677.6" y2="139.5" stroke="#8c8c8c" stroke-width="1.0"/>
<line x1="492.9" y1="139.5" x2="495.5" y2="139.5" stroke="#8c8c8c" stroke-width="0.8"/>
<line x1="492.9" y1="106.5" x2="495.5" y2="106.5" stroke="#8c8c8c" stroke-width="0.8"/>
<line x1="492.9" y1="42.6" x2="495.5" y2="42.6" stroke="#8c8c8c" stroke-width="0.8"/>
<line x1="492.9" y1="4.6" x2="495.5" y2="4.6" stroke="#8c8c8c" stroke-width="0.8"/>
<line x1="495.6" y1="139.5" x2="495.6" y2="141.1" stroke="#8c8c8c" stroke-width="0.8"/>
<line x1="532" y1="139.5" x2="532" y2="141.1" stroke="#8c8c8c" stroke-width="0.8"/>
<line x1="568.4" y1="139.5" x2="568.4" y2="141.1" stroke="#8c8c8c" stroke-width="0.8"/>
<line x1="604.8" y1="139.5" x2="604.8" y2="141.1" stroke="#8c8c8c" stroke-width="0.8"/>
<line x1="641.2" y1="139.5" x2="641.2" y2="141.1" stroke="#8c8c8c" stroke-width="0.8"/>
<line x1="677.6" y1="139.5" x2="677.6" y2="141.1" stroke="#8c8c8c" stroke-width="0.8"/>
<line x1="513.8" y1="139.5" x2="513.8" y2="141.9" stroke="#8c8c8c" stroke-width="0.8"/>
<line x1="550.2" y1="139.5" x2="550.2" y2="141.9" stroke="#8c8c8c" stroke-width="0.8"/>
<line x1="586.6" y1="139.5" x2="586.6" y2="141.9" stroke="#8c8c8c" stroke-width="0.8"/>
<line x1="623" y1="139.5" x2="623" y2="141.9" stroke="#8c8c8c" stroke-width="0.8"/>
<line x1="659.4" y1="139.5" x2="659.4" y2="141.9" stroke="#8c8c8c" stroke-width="0.8"/>
<rect x="499.1" y="42.6" width="5.9" height="28.3" fill="#000000" stroke="#000" stroke-opacity="0.55" stroke-width="0.45"/>
<rect x="499.1" y="73.4" width="5.9" height="66.1" fill="#000000" stroke="#000" stroke-opacity="0.55" stroke-width="0.45"/>
<rect x="505" y="136.2" width="5.9" height="3.3" fill="#ff0000" stroke="#000" stroke-opacity="0.55" stroke-width="0.45"/>
<rect x="510.9" y="95.7" width="5.9" height="43.8" fill="#0000ff" stroke="#000" stroke-opacity="0.55" stroke-width="0.45"/>
<rect x="516.8" y="112.9" width="5.9" height="26.6" fill="#008080" stroke="#000" stroke-opacity="0.55" stroke-width="0.45"/>
<path d="M507.5 135.5V137.5M506 135.5H509M506 137.5H509" stroke="#000" stroke-width="0.6" fill="none"/>
<path d="M513.5 87.5V104.5M512 87.5H515M512 104.5H515" stroke="#000" stroke-width="0.6" fill="none"/>
<path d="M519.5 110.5V115.5M518 110.5H521M518 115.5H521" stroke="#000" stroke-width="0.6" fill="none"/>
<rect x="535.8" y="42.6" width="5.9" height="28.3" fill="#000000" stroke="#000" stroke-opacity="0.55" stroke-width="0.45"/>
<rect x="535.8" y="73.4" width="5.9" height="66.1" fill="#000000" stroke="#000" stroke-opacity="0.55" stroke-width="0.45"/>
<rect x="541.7" y="135.2" width="5.9" height="4.3" fill="#ff0000" stroke="#000" stroke-opacity="0.55" stroke-width="0.45"/>
<rect x="547.6" y="92" width="5.9" height="47.5" fill="#0000ff" stroke="#000" stroke-opacity="0.55" stroke-width="0.45"/>
<rect x="553.5" y="105.2" width="5.9" height="34.3" fill="#008080" stroke="#000" stroke-opacity="0.55" stroke-width="0.45"/>
<path d="M544.5 134.5V136.5M543 134.5H546M543 136.5H546" stroke="#000" stroke-width="0.6" fill="none"/>
<path d="M550.5 77.5V106.5M549 77.5H552M549 106.5H552" stroke="#000" stroke-width="0.6" fill="none"/>
<path d="M556.5 101.5V109.5M555 101.5H558M555 109.5H558" stroke="#000" stroke-width="0.6" fill="none"/>
<rect x="572.2" y="42.6" width="5.9" height="28.3" fill="#000000" stroke="#000" stroke-opacity="0.55" stroke-width="0.45"/>
<rect x="572.2" y="73.4" width="5.9" height="66.1" fill="#000000" stroke="#000" stroke-opacity="0.55" stroke-width="0.45"/>
<rect x="578.1" y="135.5" width="5.9" height="4" fill="#ff0000" stroke="#000" stroke-opacity="0.55" stroke-width="0.45"/>
<rect x="584" y="94.3" width="5.9" height="45.2" fill="#0000ff" stroke="#000" stroke-opacity="0.55" stroke-width="0.45"/>
<rect x="589.9" y="109.8" width="5.9" height="29.7" fill="#008080" stroke="#000" stroke-opacity="0.55" stroke-width="0.45"/>
<path d="M581.5 134.5V136.5M580 134.5H583M580 136.5H583" stroke="#000" stroke-width="0.6" fill="none"/>
<path d="M586.5 90.5V98.5M585 90.5H588M585 98.5H588" stroke="#000" stroke-width="0.6" fill="none"/>
<path d="M592.5 107.5V112.5M591 107.5H594M591 112.5H594" stroke="#000" stroke-width="0.6" fill="none"/>
<rect x="608.7" y="42.6" width="5.9" height="28.3" fill="#000000" stroke="#000" stroke-opacity="0.55" stroke-width="0.45"/>
<rect x="608.7" y="73.4" width="5.9" height="66.1" fill="#000000" stroke="#000" stroke-opacity="0.55" stroke-width="0.45"/>
<rect x="614.6" y="132.2" width="5.9" height="7.3" fill="#ff0000" stroke="#000" stroke-opacity="0.55" stroke-width="0.45"/>
<rect x="620.5" y="133.8" width="5.9" height="5.7" fill="#0000ff" stroke="#000" stroke-opacity="0.55" stroke-width="0.45"/>
<rect x="626.4" y="96.6" width="5.9" height="42.9" fill="#008080" stroke="#000" stroke-opacity="0.55" stroke-width="0.45"/>
<path d="M617.5 128.5V136.5M616 128.5H619M616 136.5H619" stroke="#000" stroke-width="0.6" fill="none"/>
<path d="M629.5 93.5V99.5M628 93.5H631M628 99.5H631" stroke="#000" stroke-width="0.6" fill="none"/>
<rect x="645.1" y="42.6" width="5.9" height="28.3" fill="#000000" stroke="#000" stroke-opacity="0.55" stroke-width="0.45"/>
<rect x="645.1" y="73.4" width="5.9" height="66.1" fill="#000000" stroke="#000" stroke-opacity="0.55" stroke-width="0.45"/>
<rect x="651" y="139.1" width="5.9" height="0.4" fill="#7a2020" stroke="#000" stroke-opacity="0.55" stroke-width="0.45"/>
<rect x="656.9" y="62.2" width="5.9" height="8.7" fill="#0000ff" stroke="#000" stroke-opacity="0.55" stroke-width="0.45"/>
<rect x="656.9" y="73.4" width="5.9" height="66.1" fill="#0000ff" stroke="#000" stroke-opacity="0.55" stroke-width="0.45"/>
<path d="M659.5 47.5V62.5M658 47.5H661M658 62.5H661" stroke="#000" stroke-width="0.6" fill="none"/>
<rect x="500.5" y="4.5" width="41.5" height="35.6" fill="#fff" stroke="#777" stroke-width="1"/>
<rect x="501.1" y="5.8" width="13.6" height="5" fill="#000000" stroke="#555" stroke-width="0.5"/>
<rect x="501.1" y="13.1" width="13.6" height="5" fill="#ff0000" stroke="#555" stroke-width="0.5"/>
<rect x="501.1" y="20.2" width="13.6" height="5" fill="#0000ff" stroke="#555" stroke-width="0.5"/>
<rect x="501.1" y="27.2" width="13.6" height="5" fill="#008080" stroke="#555" stroke-width="0.5"/>
<rect x="501.1" y="34.3" width="13.6" height="5" fill="#ff00ff" stroke="#555" stroke-width="0.5"/>
<g opacity="0.999" fill="#000">
<text x="17.2" y="141.42" font-size="6" text-anchor="end">0</text>
<text x="17.2" y="114.28" font-size="6" text-anchor="end">1</text>
<text x="17.2" y="87.14" font-size="6" text-anchor="end">2</text>
<text x="17.2" y="60" font-size="6" text-anchor="end">3</text>
<text x="17.2" y="32.86" font-size="6" text-anchor="end">4</text>
<text x="17.2" y="5.72" font-size="6" text-anchor="end">5</text>
<text x="40.05" y="148.7" font-size="5.8" text-anchor="middle" font-style="italic" stroke="none">UBC</text>
<text x="76.55" y="148.7" font-size="5.8" text-anchor="middle" font-style="italic" stroke="none">UBC E2</text>
<text x="113.05" y="148.7" font-size="5.8" text-anchor="middle" font-style="italic" stroke="none">UBA80 + UBC</text>
<text x="149.55" y="148.7" font-size="5.8" text-anchor="middle" font-style="italic" stroke="none">TUA</text>
<text x="186.05" y="148.7" font-size="5.8" text-anchor="middle" font-style="italic" stroke="none">18S</text>
<text transform="translate(9 75.5) rotate(-90)" font-size="5.9" text-anchor="middle">Normalized Expression</text>
<text x="202.2" y="16.7" font-size="11.6" text-anchor="start">A</text>
<text transform="translate(41.8 12.39) scale(0.9 1)" font-size="6.3" text-anchor="start">Daye</text>
<text transform="translate(41.8 19.69) scale(0.9 1)" font-size="6.3" text-anchor="start">Huazhong4</text>
<text transform="translate(41.8 26.69) scale(0.9 1)" font-size="6.3" text-anchor="start">Xiaoye</text>
<text transform="translate(41.8 33.79) scale(0.9 1)" font-size="6.3" text-anchor="start">Yanci</text>
<text x="253" y="141.62" font-size="6" text-anchor="end">0</text>
<text x="253" y="114.52" font-size="6" text-anchor="end">5</text>
<text x="253" y="87.42" font-size="6" text-anchor="end">10</text>
<text x="253" y="60.32" font-size="6" text-anchor="end">15</text>
<text x="253" y="33.22" font-size="6" text-anchor="end">20</text>
<text x="253" y="6.12" font-size="6" text-anchor="end">25</text>
<text x="276.03" y="149.4" font-size="5.8" text-anchor="middle" font-style="italic" stroke="none">H2B</text>
<text x="312.7" y="149.4" font-size="5.8" text-anchor="middle" font-style="italic" stroke="none">UBC</text>
<text x="349.38" y="149.4" font-size="5.8" text-anchor="middle" font-style="italic" stroke="none">UBC + UBC E2</text>
<text x="386.04" y="149.4" font-size="5.8" text-anchor="middle" font-style="italic" stroke="none">ACT</text>
<text x="422.72" y="149.4" font-size="5.8" text-anchor="middle" font-style="italic" stroke="none">TUA</text>
<text transform="translate(242.4 76) rotate(-90)" font-size="5.9" text-anchor="middle">Normalized Expression</text>
<text x="450.2" y="16.9" font-size="11.6" text-anchor="start">B</text>
<text transform="translate(278 15.44) scale(0.9 1)" font-size="6.3" text-anchor="start">period 1</text>
<text transform="translate(278 22.54) scale(0.9 1)" font-size="6.3" text-anchor="start">period 2</text>
<text transform="translate(278 29.69) scale(0.9 1)" font-size="6.3" text-anchor="start">period 3</text>
<text transform="translate(278 36.84) scale(0.9 1)" font-size="6.3" text-anchor="start">period 4</text>
<text transform="translate(278 43.94) scale(0.9 1)" font-size="6.3" text-anchor="start">period 5</text>
<text x="16.4" y="323.82" font-size="6" text-anchor="end">0</text>
<text x="16.4" y="308.88" font-size="6" text-anchor="end">5</text>
<text x="16.4" y="293.94" font-size="6" text-anchor="end">10</text>
<text x="16.4" y="279" font-size="6" text-anchor="end">15</text>
<text x="16.4" y="264.06" font-size="6" text-anchor="end">20</text>
<text x="16.4" y="249.12" font-size="6" text-anchor="end">25</text>
<text x="16.4" y="234.18" font-size="6" text-anchor="end">30</text>
<text x="16.4" y="219.24" font-size="6" text-anchor="end">35</text>
<text x="16.4" y="204.3" font-size="6" text-anchor="end">40</text>
<text x="16.4" y="189.36" font-size="6" text-anchor="end">45</text>
<text x="39.2" y="331.1" font-size="5.8" text-anchor="middle" font-style="italic" stroke="none">TUB</text>
<text x="75.6" y="331.1" font-size="5.8" text-anchor="middle" font-style="italic" stroke="none">UBC</text>
<text x="112" y="331.1" font-size="5.8" text-anchor="middle" font-style="italic" stroke="none">TUB+UBC</text>
<text x="148.4" y="331.1" font-size="5.8" text-anchor="middle" font-style="italic" stroke="none">UBA52</text>
<text x="184.8" y="331.1" font-size="5.8" text-anchor="middle" font-style="italic" stroke="none">18S rRNA</text>
<text transform="translate(6.3 258.2) rotate(-90)" font-size="5.9" text-anchor="middle">Normalized Expression</text>
<text x="202.4" y="197.5" font-size="11.6" text-anchor="start">D</text>
<text transform="translate(40.7 196.39) scale(0.9 1)" font-size="6.3" text-anchor="start">Cold0</text>
<text transform="translate(40.7 203.49) scale(0.9 1)" font-size="6.3" text-anchor="start">Cold2</text>
<text transform="translate(40.7 210.39) scale(0.9 1)" font-size="6.3" text-anchor="start">Cold6</text>
<text transform="translate(40.7 217.49) scale(0.9 1)" font-size="6.3" text-anchor="start">Cold9</text>
<text transform="translate(40.7 224.69) scale(0.9 1)" font-size="6.3" text-anchor="start">Cold12</text>
<text x="253.6" y="324.82" font-size="6" text-anchor="end">0</text>
<text x="253.6" y="303.79" font-size="6" text-anchor="end">1</text>
<text x="253.6" y="282.76" font-size="6" text-anchor="end">2</text>
<text x="253.6" y="261.73" font-size="6" text-anchor="end">3</text>
<text x="253.6" y="240.7" font-size="6" text-anchor="end">4</text>
<text x="253.6" y="219.67" font-size="6" text-anchor="end">5</text>
<text x="253.6" y="198.64" font-size="6" text-anchor="end">6</text>
<text x="278.04" y="331.9" font-size="5.8" text-anchor="middle" font-style="italic" stroke="none">UBA80</text>
<text x="314.91" y="331.9" font-size="5.8" text-anchor="middle" font-style="italic" stroke="none">H2B</text>
<text x="351.78" y="331.9" font-size="5.8" text-anchor="middle" font-style="italic" stroke="none">UBE E2 + TUB</text>
<text x="388.64" y="331.9" font-size="5.8" text-anchor="middle" font-style="italic" stroke="none">TUA</text>
<text x="425.51" y="331.9" font-size="5.8" text-anchor="middle" font-style="italic" stroke="none">18S rRNA</text>
<text transform="translate(246.9 263.9) rotate(-90)" font-size="5.6" text-anchor="middle">Normalized Expression</text>
<text x="446.9" y="197.5" font-size="11.6" text-anchor="start">E</text>
<text transform="translate(279.1 204.34) scale(0.9 1)" font-size="6.3" text-anchor="start">Salinity0</text>
<text transform="translate(279.1 211.34) scale(0.9 1)" font-size="6.3" text-anchor="start">Salinity2</text>
<text transform="translate(279.1 218.14) scale(0.9 1)" font-size="6.3" text-anchor="start">Salinity6</text>
<text transform="translate(279.1 224.84) scale(0.9 1)" font-size="6.3" text-anchor="start">Salinity9</text>
<text transform="translate(279.1 231.44) scale(0.9 1)" font-size="6.3" text-anchor="start">Salinity12</text>
<text x="493" y="324.82" font-size="6" text-anchor="end">0</text>
<text x="493" y="302.4" font-size="6" text-anchor="end">1</text>
<text x="493" y="279.98" font-size="6" text-anchor="end">2</text>
<text x="493" y="257.56" font-size="6" text-anchor="end">3</text>
<text x="493" y="235.14" font-size="6" text-anchor="end">4</text>
<text x="493" y="212.72" font-size="6" text-anchor="end">5</text>
<text x="493" y="190.3" font-size="6" text-anchor="end">6</text>
<text x="515.35" y="331.4" font-size="5.8" text-anchor="middle" font-style="italic" stroke="none">UBA60</text>
<text x="551.65" y="331.4" font-size="5.8" text-anchor="middle" font-style="italic" stroke="none">H2B</text>
<text x="587.95" y="331.4" font-size="5.8" text-anchor="middle" font-style="italic" stroke="none">UBE E2 + TUB</text>
<text x="624.25" y="331.4" font-size="5.8" text-anchor="middle" font-style="italic" stroke="none">TUA</text>
<text x="660.55" y="331.4" font-size="5.8" text-anchor="middle" font-style="italic" stroke="none">18S rRNA</text>
<text transform="translate(486.2 258.7) rotate(-90)" font-size="5.9" text-anchor="middle">Normalized Expression</text>
<text x="675.9" y="198.4" font-size="11.6" text-anchor="start">F</text>
<text transform="translate(516.8 196.49) scale(0.9 1)" font-size="6.3" text-anchor="start">Salinity0</text>
<text transform="translate(516.8 203.69) scale(0.9 1)" font-size="6.3" text-anchor="start">Salinity2</text>
<text transform="translate(516.8 210.59) scale(0.9 1)" font-size="6.3" text-anchor="start">Salinity6</text>
<text transform="translate(516.8 217.49) scale(0.9 1)" font-size="6.3" text-anchor="start">Salinity9</text>
<text transform="translate(516.8 224.69) scale(0.9 1)" font-size="6.3" text-anchor="start">Salinity12</text>
<text x="491" y="140.82" font-size="6" text-anchor="end">0.0</text>
<text x="491" y="107.82" font-size="6" text-anchor="end">0.2</text>
<text x="491" y="43.92" font-size="6" text-anchor="end">1.0</text>
<text x="491" y="5.92" font-size="6" text-anchor="end">1.2</text>
<text x="513.8" y="148.5" font-size="5.8" text-anchor="middle" font-style="italic" stroke="none">UBC</text>
<text x="550.2" y="148.5" font-size="5.8" text-anchor="middle" font-style="italic" stroke="none">UBC E2</text>
<text x="586.6" y="148.5" font-size="5.8" text-anchor="middle" font-style="italic" stroke="none">UBA52 + UBA80</text>
<text x="623" y="148.5" font-size="5.8" text-anchor="middle" font-style="italic" stroke="none">TUB</text>
<text x="659.4" y="148.5" font-size="5.8" text-anchor="middle" font-style="italic" stroke="none">18S rRNA</text>
<text transform="translate(479.6 74) rotate(-90)" font-size="5.9" text-anchor="middle">Normalized Expression</text>
<text x="675.6" y="17.1" font-size="11.6" text-anchor="start">C</text>
<text transform="translate(516 10.44) scale(0.9 1)" font-size="6.3" text-anchor="start">Leaf blade</text>
<text transform="translate(516 17.74) scale(0.9 1)" font-size="6.3" text-anchor="start">Bark</text>
<text transform="translate(516 24.84) scale(0.9 1)" font-size="6.3" text-anchor="start">Branch</text>
<text transform="translate(516 31.84) scale(0.9 1)" font-size="6.3" text-anchor="start">Root</text>
<text transform="translate(516 38.94) scale(0.9 1)" font-size="6.3" text-anchor="start">Fruit</text>
</g>
</svg>
</body></html>
